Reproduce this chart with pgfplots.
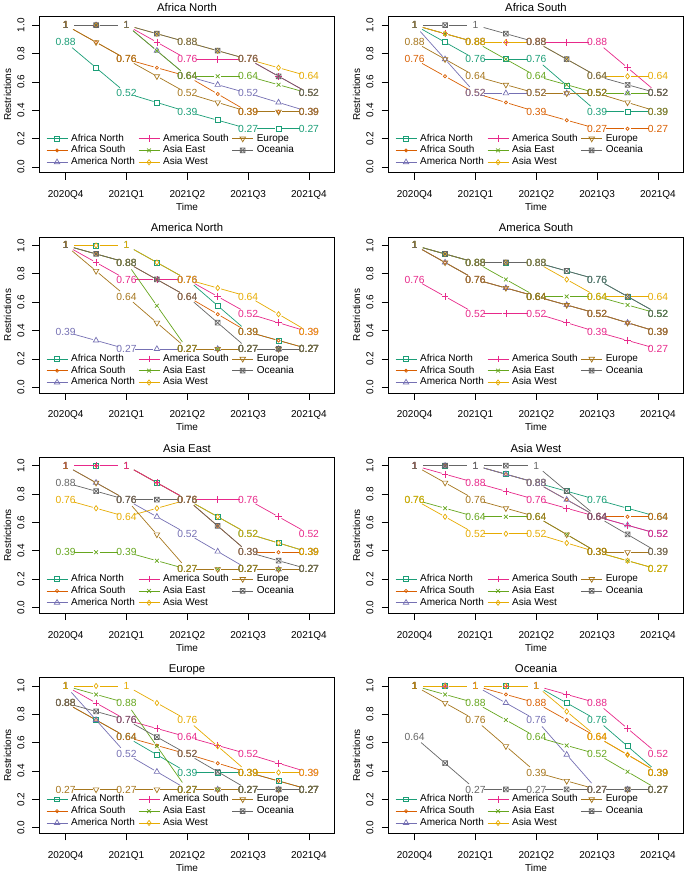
\documentclass[border=0pt]{standalone}
\usepackage{fontspec}
\setmainfont{Liberation Sans}
\usepackage{pgfplots}
\pgfplotsset{compat=1.18}
\usetikzlibrary{decorations.pathreplacing}
\definecolor{cAN}{HTML}{1B9E77}
\definecolor{cAS}{HTML}{D95F02}
\definecolor{cAmN}{HTML}{7570B3}
\definecolor{cAmS}{HTML}{E7298A}
\definecolor{cAE}{HTML}{66A61E}
\definecolor{cAW}{HTML}{E6AB02}
\definecolor{cEU}{HTML}{A6761D}
\definecolor{cOC}{HTML}{666666}
\newcommand\tickfont{\fontsize{10}{12}\selectfont}
\newcommand\titlefont{\fontsize{11.3}{13}\selectfont}
\newcommand\labfont{\fontsize{10.3}{12}\selectfont}
\pgfdeclareplotmark{dtri}{%
  \pgfpathmoveto{\pgfqpoint{0pt}{-\pgfplotmarksize}}%
  \pgfpathlineto{\pgfqpoint{0.866\pgfplotmarksize}{0.5\pgfplotmarksize}}%
  \pgfpathlineto{\pgfqpoint{-0.866\pgfplotmarksize}{0.5\pgfplotmarksize}}%
  \pgfpathclose\pgfusepathqstroke}
\pgfdeclareplotmark{utri}{%
  \pgfpathmoveto{\pgfqpoint{0pt}{\pgfplotmarksize}}%
  \pgfpathlineto{\pgfqpoint{0.866\pgfplotmarksize}{-0.5\pgfplotmarksize}}%
  \pgfpathlineto{\pgfqpoint{-0.866\pgfplotmarksize}{-0.5\pgfplotmarksize}}%
  \pgfpathclose\pgfusepathqstroke}
\pgfdeclareplotmark{boxx}{%
  \pgfpathrectangle{\pgfqpoint{-\pgfplotmarksize}{-\pgfplotmarksize}}{\pgfqpoint{2\pgfplotmarksize}{2\pgfplotmarksize}}%
  \pgfpathmoveto{\pgfqpoint{-\pgfplotmarksize}{-\pgfplotmarksize}}\pgfpathlineto{\pgfqpoint{\pgfplotmarksize}{\pgfplotmarksize}}%
  \pgfpathmoveto{\pgfqpoint{-\pgfplotmarksize}{\pgfplotmarksize}}\pgfpathlineto{\pgfqpoint{\pgfplotmarksize}{-\pgfplotmarksize}}%
  \pgfusepathqstroke}
\tikzset{
  lw/.style={line width=0.7pt},
  mAN/.style={mark=square, mark size=2.4pt},
  mAS/.style={mark=o, mark size=1.6pt},
  mAmN/.style={mark=utri, mark size=3.2pt},
  mAmS/.style={mark=+, mark size=3.3pt},
  mAE/.style={mark=x, mark size=2.7pt},
  mAW/.style={mark=diamond, mark size=2.6pt},
  mEU/.style={mark=dtri, mark size=3.2pt},
  mOC/.style={mark=boxx, mark size=2.4pt},
}
\pgfplotsset{legend image code/.code={\draw[mark repeat=2,mark phase=2,#1] plot coordinates {(0pt,0pt) (10.5pt,0pt) (21pt,0pt)};}}
\pgfplotsset{
  every axis title shift=0pt,
  serline/.style 2 args={forget plot, draw=none, mark=none, decorate,
    decoration={show path construction,
      lineto code={%
        \path (\tikzinputsegmentfirst) -- (\tikzinputsegmentlast) coordinate[pos=0.5] (mid);
        \draw[#1, lw, shorten <=8.5pt, shorten >=3.5pt] (\tikzinputsegmentfirst) -- (mid);
        \draw[#1, lw, shorten <=3.5pt, shorten >=8.5pt] (mid) -- (\tikzinputsegmentlast);
        \draw[#1, lw, solid, #2] plot[only marks] coordinates {(mid)};
      }}},
  serlab/.style={forget plot, draw=none, mark=none, nodes near coords, point meta=y,
    nodes near coords={\pgfmathprintnumber[fixed, precision=2, assume math mode=true]{\pgfplotspointmeta}},
    every node near coord/.append style={text=#1, anchor=center, font=\labfont, inner sep=0pt}},
  panel/.style={
    scale only axis, width=295pt, height=156pt, anchor=north west,
    xmin=-0.43, xmax=4.42, ymin=-0.04, ymax=1.06,
    xtick={0,1,2,3,4}, xticklabels={2020Q4,2021Q1,2021Q2,2021Q3,2021Q4},
    ytick={0,0.2,0.4,0.6,0.8,1},
    tick align=outside, tick pos=left, major tick length=7pt,
    every tick/.style={black, line width=0.7pt},
    axis line style={line width=0.7pt},
    /pgf/number format/assume math mode=true,
    tick label style={font=\tickfont},
    yticklabel style={/pgf/number format/fixed, /pgf/number format/fixed zerofill, /pgf/number format/precision=1, xshift=-4.5pt, rotate=90, anchor=south},
    xticklabel style={yshift=-7.5pt},
    xlabel=Time, ylabel=Restrictions,
    label style={font=\tickfont},
    xlabel style={at={(axis description cs:0.5,-0.221)}, anchor=center},
    ylabel style={at={(axis description cs:-0.108,0.5)}, anchor=center},
    title style={at={(axis description cs:0.5,1)}, anchor=base, yshift=5pt, font=\titlefont},
    legend columns=3, legend cell align=left,
    legend style={draw=none, fill=none, font=\tickfont, at={(axis description cs:0.022,0.028)}, anchor=south west,
      inner sep=0pt, row sep=0pt, column sep=2pt,
      nodes={inner sep=1.2pt, text height=7.2pt, text depth=2.2pt},
      /tikz/every even column/.append style={column sep=2pt}},
  }
}
\newcommand\ser[3]{%
  \addplot[serline={#1}{#2}] coordinates {#3};
  \addplot[serlab=#1] coordinates {#3};}
\newcommand\leg{%
  \addlegendimage{cAN, lw, mAN}\addlegendentry{Africa North}
  \addlegendimage{cAmS, lw, mAmS}\addlegendentry{America South}
  \addlegendimage{cEU, lw, mEU}\addlegendentry{Europe}
  \addlegendimage{cAS, lw, mAS}\addlegendentry{Africa South}
  \addlegendimage{cAE, lw, mAE}\addlegendentry{Asia East}
  \addlegendimage{cOC, lw, mOC}\addlegendentry{Oceania}
  \addlegendimage{cAmN, lw, mAmN}\addlegendentry{America North}
  \addlegendimage{cAW, lw, mAW}\addlegendentry{Asia West}}
\begin{document}
\begin{tikzpicture}
\useasboundingbox (0,0) rectangle (687pt,881pt);
% Row 1
\begin{axis}[panel, at={(39.5pt,864.3pt)}, title={Africa North}]
\leg
\ser{cAN}{mAN}{(0,0.88) (1,0.52) (2,0.39) (3,0.27) (4,0.27)}
\ser{cAS}{mAS}{(0,1) (1,0.76) (2,0.64) (3,0.39) (4,0.39)}
\ser{cAmN}{mAmN}{(0,1) (1,1) (2,0.64) (3,0.52) (4,0.39)}
\ser{cAmS}{mAmS}{(0,1) (1,1) (2,0.76) (3,0.76) (4,0.52)}
\ser{cAE}{mAE}{(0,1) (1,1) (2,0.64) (3,0.64) (4,0.52)}
\ser{cAW}{mAW}{(0,1) (1,1) (2,0.88) (3,0.76) (4,0.64)}
\ser{cEU}{mEU}{(0,1) (1,0.76) (2,0.52) (3,0.39) (4,0.39)}
\ser{cOC}{mOC}{(0,1) (1,1) (2,0.88) (3,0.76) (4,0.52)}
\end{axis}
\begin{axis}[panel, at={(388.5pt,864.3pt)}, title={Africa South}]
\leg
\ser{cAN}{mAN}{(0,1) (1,0.76) (2,0.76) (3,0.39) (4,0.39)}
\ser{cAS}{mAS}{(0,0.76) (1,0.52) (2,0.39) (3,0.27) (4,0.27)}
\ser{cAmN}{mAmN}{(0,1) (1,0.52) (2,0.52) (3,0.52) (4,0.52)}
\ser{cAmS}{mAmS}{(0,1) (1,0.88) (2,0.88) (3,0.88) (4,0.52)}
\ser{cAE}{mAE}{(0,1) (1,0.88) (2,0.64) (3,0.52) (4,0.52)}
\ser{cAW}{mAW}{(0,1) (1,0.88) (2,0.88) (3,0.64) (4,0.64)}
\ser{cEU}{mEU}{(0,0.88) (1,0.64) (2,0.52) (3,0.52) (4,0.39)}
\ser{cOC}{mOC}{(0,1) (1,1) (2,0.88) (3,0.64) (4,0.52)}
\end{axis}
% Row 2
\begin{axis}[panel, at={(39.5pt,644.05pt)}, title={America North}]
\leg
\ser{cAN}{mAN}{(0,1) (1,1) (2,0.76) (3,0.39) (4,0.27)}
\ser{cAS}{mAS}{(0,1) (1,0.88) (2,0.64) (3,0.39) (4,0.27)}
\ser{cAmN}{mAmN}{(0,0.39) (1,0.27) (2,0.27) (3,0.27) (4,0.27)}
\ser{cAmS}{mAmS}{(0,1) (1,0.76) (2,0.76) (3,0.52) (4,0.39)}
\ser{cAE}{mAE}{(0,1) (1,0.88) (2,0.27) (3,0.27) (4,0.27)}
\ser{cAW}{mAW}{(0,1) (1,1) (2,0.76) (3,0.64) (4,0.39)}
\ser{cEU}{mEU}{(0,1) (1,0.64) (2,0.27) (3,0.27) (4,0.27)}
\ser{cOC}{mOC}{(0,1) (1,0.88) (2,0.64) (3,0.27) (4,0.27)}
\end{axis}
\begin{axis}[panel, at={(388.5pt,644.05pt)}, title={America South}]
\leg
\ser{cAN}{mAN}{(0,1) (1,0.88) (2,0.88) (3,0.76) (4,0.52)}
\ser{cAS}{mAS}{(0,1) (1,0.76) (2,0.64) (3,0.52) (4,0.39)}
\ser{cAmN}{mAmN}{(0,1) (1,0.76) (2,0.64) (3,0.52) (4,0.39)}
\ser{cAmS}{mAmS}{(0,0.76) (1,0.52) (2,0.52) (3,0.39) (4,0.27)}
\ser{cAE}{mAE}{(0,1) (1,0.88) (2,0.64) (3,0.64) (4,0.52)}
\ser{cAW}{mAW}{(0,1) (1,0.88) (2,0.88) (3,0.64) (4,0.64)}
\ser{cEU}{mEU}{(0,1) (1,0.76) (2,0.64) (3,0.52) (4,0.39)}
\ser{cOC}{mOC}{(0,1) (1,0.88) (2,0.88) (3,0.76) (4,0.52)}
\end{axis}
% Row 3
\begin{axis}[panel, at={(39.5pt,423.8pt)}, title={Asia East}]
\leg
\ser{cAN}{mAN}{(0,1) (1,1) (2,0.76) (3,0.52) (4,0.39)}
\ser{cAS}{mAS}{(0,1) (1,1) (2,0.76) (3,0.39) (4,0.39)}
\ser{cAmN}{mAmN}{(0,1) (1,0.76) (2,0.52) (3,0.27) (4,0.27)}
\ser{cAmS}{mAmS}{(0,1) (1,1) (2,0.76) (3,0.76) (4,0.52)}
\ser{cAE}{mAE}{(0,0.39) (1,0.39) (2,0.27) (3,0.27) (4,0.27)}
\ser{cAW}{mAW}{(0,0.76) (1,0.64) (2,0.76) (3,0.52) (4,0.39)}
\ser{cEU}{mEU}{(0,1) (1,0.76) (2,0.27) (3,0.27) (4,0.27)}
\ser{cOC}{mOC}{(0,0.88) (1,0.76) (2,0.76) (3,0.39) (4,0.27)}
\end{axis}
\begin{axis}[panel, at={(388.5pt,423.8pt)}, title={Asia West}]
\leg
\ser{cAN}{mAN}{(0,1) (1,1) (2,0.88) (3,0.76) (4,0.64)}
\ser{cAS}{mAS}{(0,1) (1,1) (2,0.88) (3,0.64) (4,0.64)}
\ser{cAmN}{mAmN}{(0,1) (1,1) (2,0.88) (3,0.64) (4,0.52)}
\ser{cAmS}{mAmS}{(0,1) (1,0.88) (2,0.76) (3,0.64) (4,0.52)}
\ser{cAE}{mAE}{(0,0.76) (1,0.64) (2,0.64) (3,0.39) (4,0.27)}
\ser{cAW}{mAW}{(0,0.76) (1,0.52) (2,0.52) (3,0.39) (4,0.27)}
\ser{cEU}{mEU}{(0,1) (1,0.76) (2,0.64) (3,0.39) (4,0.39)}
\ser{cOC}{mOC}{(0,1) (1,1) (2,1) (3,0.64) (4,0.39)}
\end{axis}
% Row 4
\begin{axis}[panel, at={(39.5pt,203.55pt)}, title={Europe}]
\leg
\ser{cAN}{mAN}{(0,0.88) (1,0.64) (2,0.39) (3,0.39) (4,0.27)}
\ser{cAS}{mAS}{(0,0.88) (1,0.64) (2,0.52) (3,0.39) (4,0.27)}
\ser{cAmN}{mAmN}{(0,1) (1,0.52) (2,0.27) (3,0.27) (4,0.27)}
\ser{cAmS}{mAmS}{(0,1) (1,0.76) (2,0.64) (3,0.52) (4,0.39)}
\ser{cAE}{mAE}{(0,1) (1,0.88) (2,0.27) (3,0.27) (4,0.27)}
\ser{cAW}{mAW}{(0,1) (1,1) (2,0.76) (3,0.39) (4,0.39)}
\ser{cEU}{mEU}{(0,0.27) (1,0.27) (2,0.27) (3,0.27) (4,0.27)}
\ser{cOC}{mOC}{(0,0.88) (1,0.76) (2,0.52) (3,0.27) (4,0.27)}
\end{axis}
\begin{axis}[panel, at={(388.5pt,203.55pt)}, title={Oceania}]
\leg
\ser{cAN}{mAN}{(0,1) (1,1) (2,1) (3,0.76) (4,0.39)}
\ser{cAS}{mAS}{(0,1) (1,1) (2,0.88) (3,0.64) (4,0.39)}
\ser{cAmN}{mAmN}{(0,1) (1,1) (2,0.76) (3,0.27) (4,0.27)}
\ser{cAmS}{mAmS}{(0,1) (1,1) (2,1) (3,0.88) (4,0.52)}
\ser{cAE}{mAE}{(0,1) (1,0.88) (2,0.64) (3,0.52) (4,0.27)}
\ser{cAW}{mAW}{(0,1) (1,1) (2,1) (3,0.64) (4,0.39)}
\ser{cEU}{mEU}{(0,1) (1,0.76) (2,0.39) (3,0.27) (4,0.27)}
\ser{cOC}{mOC}{(0,0.64) (1,0.27) (2,0.27) (3,0.27) (4,0.27)}
\end{axis}
\end{tikzpicture}
\end{document}
